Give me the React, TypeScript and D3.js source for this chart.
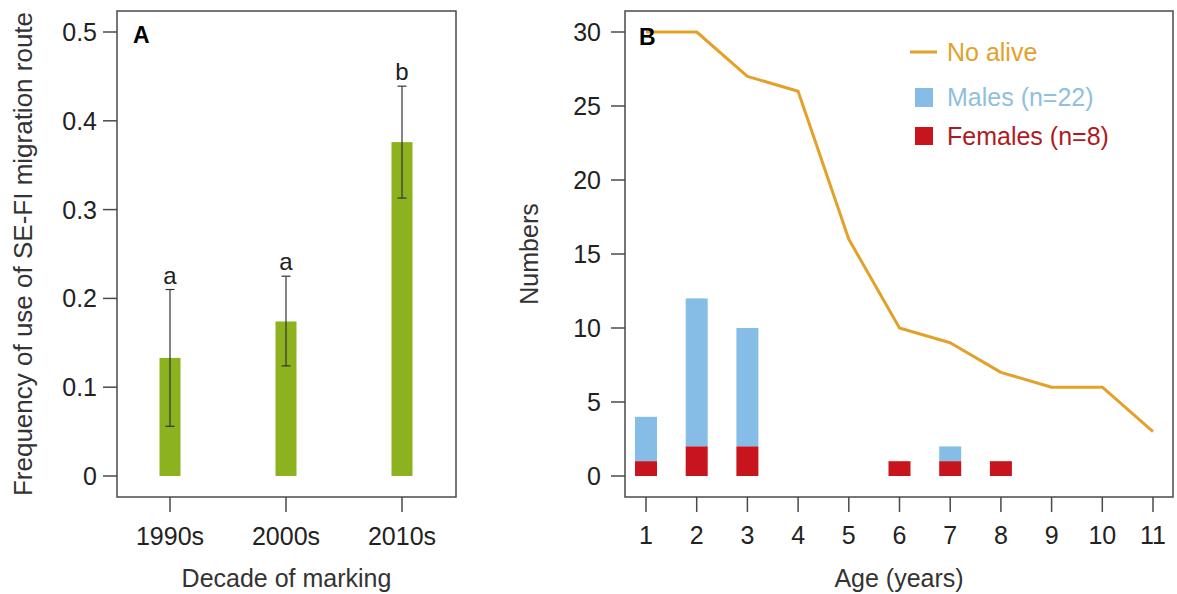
import React from "react";
import * as d3 from "d3";

// Panel A: frequency of use of SE-FI route by decade of marking
const decades = ["1990s", "2000s", "2010s"];
const freq = [0.133, 0.174, 0.376];
const errLow = [0.056, 0.124, 0.313];
const errHigh = [0.21, 0.225, 0.439];
const groupLetters = ["a", "a", "b"];
const freqTicks = [0, 0.1, 0.2, 0.3, 0.4, 0.5];

// Panel B: age distribution
const ages = [1, 2, 3, 4, 5, 6, 7, 8, 9, 10, 11];
const noAlive = [30, 30, 27, 26, 16, 10, 9, 7, 6, 6, 3];
const males = [3, 10, 8, 0, 0, 0, 1, 0, 0, 0, 0];
const females = [1, 2, 2, 0, 0, 1, 1, 1, 0, 0, 0];
const numberTicks = [0, 5, 10, 15, 20, 25, 30];

const FONT = "'Liberation Sans', Arial, sans-serif";
const GREEN = "#8cb21f";
const ORANGE = "#e3a12a";
const BLUE = "#86bde6";
const RED = "#c8141c";
const FRAME = "#4a4a4a";
const TEXT = "#222";
const FS = 25;

function PanelA() {
  const box = { left: 117, right: 456, top: 11, bottom: 497 };
  const x = d3.scalePoint<string>().domain(decades).range([170, 402]);
  const y = d3.scaleLinear().domain([0, 0.5]).range([476, 32]);
  const barW = 21;

  return (
    <g>
      <rect
        x={box.left}
        y={box.top}
        width={box.right - box.left}
        height={box.bottom - box.top}
        fill="none"
        stroke={FRAME}
        strokeWidth={1.5}
      />
      {freqTicks.map((t) => (
        <g key={t}>
          <line x1={box.left - 14} x2={box.left} y1={y(t)} y2={y(t)} stroke={FRAME} strokeWidth={1.5} />
          <text x={box.left - 20} y={y(t)} dy="0.36em" textAnchor="end" fontSize={FS} fill={TEXT}>
            {d3.format("")(t)}
          </text>
        </g>
      ))}
      {decades.map((d, i) => {
        const cx = x(d)!;
        return (
          <g key={d}>
            <rect x={cx - barW / 2} y={y(freq[i])} width={barW} height={y(0) - y(freq[i])} fill={GREEN} />
            <line x1={cx} x2={cx} y1={y(errLow[i])} y2={y(errHigh[i])} stroke="#333" strokeWidth={1.2} />
            <line x1={cx - 4.5} x2={cx + 4.5} y1={y(errLow[i])} y2={y(errLow[i])} stroke="#333" strokeWidth={1.2} />
            <line x1={cx - 4.5} x2={cx + 4.5} y1={y(errHigh[i])} y2={y(errHigh[i])} stroke="#333" strokeWidth={1.2} />
            <text x={cx} y={y(errHigh[i]) - 6} textAnchor="middle" fontSize={24} fill={TEXT}>
              {groupLetters[i]}
            </text>
            <line x1={cx} x2={cx} y1={box.bottom} y2={box.bottom + 15} stroke={FRAME} strokeWidth={1.5} />
            <text x={cx} y={545} textAnchor="middle" fontSize={FS} fill={TEXT}>
              {d}
            </text>
          </g>
        );
      })}
      <text x={133} y={43} fontSize={23} fontWeight="bold" fill="#000">
        A
      </text>
      <text x={(box.left + box.right) / 2} y={587} textAnchor="middle" fontSize={FS} fill="#333">
        Decade of marking
      </text>
      <text
        transform={`translate(32,${(box.top + box.bottom) / 2}) rotate(-90)`}
        textAnchor="middle"
        fontSize={26}
        fill="#333"
      >
        Frequency of use of SE-FI migration route
      </text>
    </g>
  );
}

function PanelB() {
  const box = { left: 625, right: 1173, top: 11, bottom: 497 };
  const x = d3.scaleLinear().domain([1, 11]).range([646, 1153]);
  const y = d3.scaleLinear().domain([0, 30]).range([476, 32]);
  const barW = 22;

  const line = d3
    .line<number>()
    .x((_, i) => x(ages[i]))
    .y((d) => y(d));

  return (
    <g>
      <rect
        x={box.left}
        y={box.top}
        width={box.right - box.left}
        height={box.bottom - box.top}
        fill="none"
        stroke={FRAME}
        strokeWidth={1.5}
      />
      {numberTicks.map((t) => (
        <g key={t}>
          <line x1={box.left - 14} x2={box.left} y1={y(t)} y2={y(t)} stroke={FRAME} strokeWidth={1.5} />
          <text x={box.left - 24} y={y(t)} dy="0.36em" textAnchor="end" fontSize={FS} fill={TEXT}>
            {t}
          </text>
        </g>
      ))}
      {ages.map((a, i) => (
        <g key={a}>
          {males[i] > 0 && (
            <rect
              x={x(a) - barW / 2}
              y={y(females[i] + males[i])}
              width={barW}
              height={y(females[i]) - y(females[i] + males[i])}
              fill={BLUE}
            />
          )}
          {females[i] > 0 && (
            <rect x={x(a) - barW / 2} y={y(females[i])} width={barW} height={y(0) - y(females[i])} fill={RED} />
          )}
          <line x1={x(a)} x2={x(a)} y1={box.bottom} y2={box.bottom + 15} stroke={FRAME} strokeWidth={1.5} />
          <text x={x(a)} y={544} textAnchor="middle" fontSize={FS} fill={TEXT}>
            {a}
          </text>
        </g>
      ))}
      <path d={line(noAlive) ?? ""} fill="none" stroke={ORANGE} strokeWidth={3} strokeLinejoin="round" />
      <text x={639} y={45} fontSize={23} fontWeight="bold" fill="#000">
        B
      </text>

      {/* legend */}
      <line x1={910} x2={937} y1={52} y2={52} stroke={ORANGE} strokeWidth={3} />
      <text x={947} y={52} dy="0.35em" fontSize={FS} fill={ORANGE}>
        No alive
      </text>
      <rect x={915} y={88} width={18} height={19} fill={BLUE} />
      <text x={947} y={97} dy="0.35em" fontSize={FS} fill="#8fc0e0">
        Males (n=22)
      </text>
      <rect x={915} y={127} width={18} height={18} fill={RED} />
      <text x={947} y={136} dy="0.35em" fontSize={FS} fill="#b01a1e">
        Females (n=8)
      </text>

      <text x={(box.left + box.right) / 2} y={587} textAnchor="middle" fontSize={FS} fill="#333">
        Age (years)
      </text>
      <text transform={`translate(538,${(box.top + box.bottom) / 2}) rotate(-90)`} textAnchor="middle" fontSize={FS} fill="#333">
        Numbers
      </text>
    </g>
  );
}

export default function App() {
  return (
    <svg
      width={1177}
      height={594}
      style={{ position: "absolute", left: 0, top: 0, background: "#fff" }}
      fontFamily={FONT}
    >
      <PanelA />
      <PanelB />
    </svg>
  );
}
